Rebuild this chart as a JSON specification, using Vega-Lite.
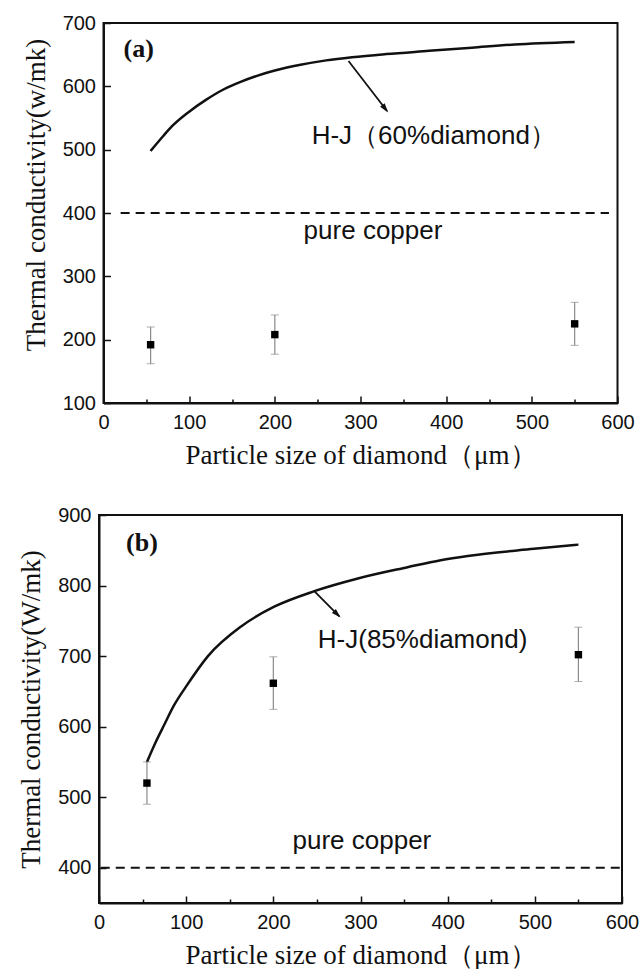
{
  "$schema": "https://vega.github.io/schema/vega-lite/v6.json",
  "background": "white",
  "padding": {"left": 16, "top": 12, "right": 5, "bottom": 5},
  "config": {
    "view": {"stroke": "#111", "strokeWidth": 2},
    "axis": {
      "grid": false, "domainColor": "#111", "domainWidth": 2,
      "tickColor": "#111", "tickWidth": 1.5,
      "labelFont": "Liberation Sans", "labelFontSize": 20, "labelColor": "#111",
      "titleFont": "Liberation Serif", "titleFontSize": 27, "titleFontWeight": "normal", "titleColor": "#111"
    }
  },
  "datasets": {
    "curveA": [
      {"x": 55, "y": 498}, {"x": 70, "y": 522}, {"x": 80, "y": 537}, {"x": 100, "y": 560},
      {"x": 120, "y": 579}, {"x": 140, "y": 595}, {"x": 160, "y": 607}, {"x": 180, "y": 617},
      {"x": 200, "y": 625}, {"x": 230, "y": 634}, {"x": 260, "y": 641}, {"x": 290, "y": 646},
      {"x": 330, "y": 651}, {"x": 380, "y": 656}, {"x": 430, "y": 661}, {"x": 480, "y": 666},
      {"x": 550, "y": 670}
    ],
    "ptsA": [
      {"x": 55, "y": 192, "lo": 162, "hi": 220},
      {"x": 200, "y": 208, "lo": 177, "hi": 239},
      {"x": 550, "y": 225, "lo": 191, "hi": 259}
    ],
    "copperA": [{"x1": 20, "x2": 590, "y": 400}],
    "arrowA": [{"x": 286, "y": 640, "x2": 331, "y2": 561, "hx": 328.9, "hy": 564.7}],
    "textA": [
      {"x": 243, "y": 508.5, "label": "H-J（60%diamond）"},
      {"x": 233.6, "y": 359, "label": "pure copper"}
    ],
    "tagA": [{"x": 23.4, "y": 658.6, "label": "(a)"}],
    "curveB": [
      {"x": 55, "y": 550}, {"x": 65, "y": 578}, {"x": 75, "y": 603}, {"x": 86, "y": 630},
      {"x": 100, "y": 657}, {"x": 125, "y": 700}, {"x": 163, "y": 742}, {"x": 201, "y": 770},
      {"x": 247, "y": 792}, {"x": 297, "y": 810}, {"x": 354, "y": 826}, {"x": 392, "y": 836},
      {"x": 423, "y": 842}, {"x": 499, "y": 852}, {"x": 550, "y": 858}
    ],
    "ptsB": [
      {"x": 55, "y": 520, "lo": 490, "hi": 550},
      {"x": 200, "y": 661.5, "lo": 624.5, "hi": 699},
      {"x": 550, "y": 702, "lo": 664, "hi": 741}
    ],
    "copperB": [{"x1": 2, "x2": 600, "y": 400}],
    "arrowB": [{"x": 247, "y": 792, "x2": 275.7, "y2": 756.3, "hx": 273.3, "hy": 759.3}],
    "textB": [
      {"x": 251, "y": 711, "label": "H-J(85%diamond)"},
      {"x": 222, "y": 427, "label": "pure copper"}
    ],
    "tagB": [{"x": 31, "y": 860.6, "label": "(b)"}]
  },
  "vconcat": [
    {
      "width": 514, "height": 380,
      "layer": [
        {
          "data": {"name": "copperA"},
          "mark": {"type": "rule", "strokeDash": [9, 6], "strokeWidth": 2, "color": "#111"},
          "encoding": {
            "x": {"field": "x1", "type": "quantitative", "title": "Particle size of diamond（μm）",
              "scale": {"domain": [0, 600], "nice": false, "zero": false},
              "axis": {"values": [0,50,100,150,200,250,300,350,400,450,500,550,600],
                "labelExpr": "datum.value % 100 === 0 ? datum.label : ''",
                "tickSize": {"condition": {"test": "datum.value % 100 === 0", "value": -7}, "value": -4},
                "labelPadding": 16, "titlePadding": 10, "labelFlush": false}},
            "x2": {"field": "x2"},
            "y": {"field": "y", "type": "quantitative", "title": "Thermal conductivity(w/mk)",
              "scale": {"domain": [100, 700], "nice": false, "zero": false},
              "axis": {"values": [100,150,200,250,300,350,400,450,500,550,600,650,700],
                "labelExpr": "datum.value % 100 === 0 ? datum.label : ''",
                "tickSize": {"condition": {"test": "datum.value % 100 === 0", "value": -7}, "value": -4},
                "labelPadding": 15, "titlePadding": 12, "titleY": 171.5, "labelFlush": false}}
          }
        },
        {
          "data": {"name": "curveA"},
          "mark": {"type": "line", "interpolate": "monotone", "strokeWidth": 2.5, "color": "#111"},
          "encoding": {
            "x": {"field": "x", "type": "quantitative", "title": "Particle size of diamond（μm）"},
            "y": {"field": "y", "type": "quantitative", "title": "Thermal conductivity(w/mk)"}
          }
        },
        {
          "data": {"name": "ptsA"},
          "mark": {"type": "errorbar", "ticks": {"size": 8, "color": "#8a8a8a"}, "rule": {"color": "#8a8a8a", "strokeWidth": 1.2}},
          "encoding": {
            "x": {"field": "x", "type": "quantitative", "title": "Particle size of diamond（μm）"},
            "y": {"field": "lo", "type": "quantitative", "title": "Thermal conductivity(w/mk)"},
            "y2": {"field": "hi"}
          }
        },
        {
          "data": {"name": "ptsA"},
          "mark": {"type": "square", "size": 55, "color": "#000", "opacity": 1},
          "encoding": {
            "x": {"field": "x", "type": "quantitative", "title": "Particle size of diamond（μm）"},
            "y": {"field": "y", "type": "quantitative", "title": "Thermal conductivity(w/mk)"}
          }
        },
        {
          "data": {"name": "arrowA"},
          "mark": {"type": "rule", "strokeWidth": 1.8, "color": "#111"},
          "encoding": {
            "x": {"field": "x", "type": "quantitative", "title": "Particle size of diamond（μm）"},
            "y": {"field": "y", "type": "quantitative", "title": "Thermal conductivity(w/mk)"},
            "x2": {"field": "x2"},
            "y2": {"field": "y2"}
          }
        },
        {
          "data": {"name": "arrowA"},
          "mark": {"type": "point", "shape": "M0,-1L0.6,1L-0.6,1Z", "filled": true, "size": 90, "angle": 142.5, "color": "#111", "opacity": 1},
          "encoding": {
            "x": {"field": "hx", "type": "quantitative", "title": "Particle size of diamond（μm）"},
            "y": {"field": "hy", "type": "quantitative", "title": "Thermal conductivity(w/mk)"}
          }
        },
        {
          "data": {"name": "textA"},
          "mark": {"type": "text", "align": "left", "baseline": "alphabetic", "font": "Liberation Sans", "fontSize": 26, "color": "#111"},
          "encoding": {
            "x": {"field": "x", "type": "quantitative", "title": "Particle size of diamond（μm）"},
            "y": {"field": "y", "type": "quantitative", "title": "Thermal conductivity(w/mk)"},
            "text": {"field": "label"}
          }
        },
        {
          "data": {"name": "tagA"},
          "mark": {"type": "text", "align": "left", "baseline": "middle", "font": "Liberation Serif", "fontWeight": "bold", "fontSize": 26, "color": "#111"},
          "encoding": {
            "x": {"field": "x", "type": "quantitative", "title": "Particle size of diamond（μm）"},
            "y": {"field": "y", "type": "quantitative", "title": "Thermal conductivity(w/mk)"},
            "text": {"field": "label"}
          }
        }
      ]
    },
    {
      "width": 523, "height": 388,
      "layer": [
        {
          "data": {"name": "copperB"},
          "mark": {"type": "rule", "strokeDash": [9, 6], "strokeWidth": 2, "color": "#111"},
          "encoding": {
            "x": {"field": "x1", "type": "quantitative", "title": "Particle size of diamond（μm）",
              "scale": {"domain": [0, 600], "nice": false, "zero": false},
              "axis": {"values": [0,50,100,150,200,250,300,350,400,450,500,550,600],
                "labelExpr": "datum.value % 100 === 0 ? datum.label : ''",
                "tickSize": {"condition": {"test": "datum.value % 100 === 0", "value": -7}, "value": -4},
                "labelPadding": 16, "titlePadding": 10, "labelFlush": false}},
            "x2": {"field": "x2"},
            "y": {"field": "y", "type": "quantitative", "title": "Thermal conductivity(W/mk)",
              "scale": {"domain": [350, 900], "nice": false, "zero": false},
              "axis": {"values": [400,450,500,550,600,650,700,750,800,850,900],
                "labelExpr": "datum.value % 100 === 0 ? datum.label : ''",
                "tickSize": {"condition": {"test": "datum.value % 100 === 0", "value": -7}, "value": -4},
                "labelPadding": 15, "titlePadding": 12, "labelFlush": false}}
          }
        },
        {
          "data": {"name": "curveB"},
          "mark": {"type": "line", "interpolate": "monotone", "strokeWidth": 2.5, "color": "#111"},
          "encoding": {
            "x": {"field": "x", "type": "quantitative", "title": "Particle size of diamond（μm）"},
            "y": {"field": "y", "type": "quantitative", "title": "Thermal conductivity(W/mk)"}
          }
        },
        {
          "data": {"name": "ptsB"},
          "mark": {"type": "errorbar", "ticks": {"size": 8, "color": "#8a8a8a"}, "rule": {"color": "#8a8a8a", "strokeWidth": 1.2}},
          "encoding": {
            "x": {"field": "x", "type": "quantitative", "title": "Particle size of diamond（μm）"},
            "y": {"field": "lo", "type": "quantitative", "title": "Thermal conductivity(W/mk)"},
            "y2": {"field": "hi"}
          }
        },
        {
          "data": {"name": "ptsB"},
          "mark": {"type": "square", "size": 55, "color": "#000", "opacity": 1},
          "encoding": {
            "x": {"field": "x", "type": "quantitative", "title": "Particle size of diamond（μm）"},
            "y": {"field": "y", "type": "quantitative", "title": "Thermal conductivity(W/mk)"}
          }
        },
        {
          "data": {"name": "arrowB"},
          "mark": {"type": "rule", "strokeWidth": 1.8, "color": "#111"},
          "encoding": {
            "x": {"field": "x", "type": "quantitative", "title": "Particle size of diamond（μm）"},
            "y": {"field": "y", "type": "quantitative", "title": "Thermal conductivity(W/mk)"},
            "x2": {"field": "x2"},
            "y2": {"field": "y2"}
          }
        },
        {
          "data": {"name": "arrowB"},
          "mark": {"type": "point", "shape": "M0,-1L0.6,1L-0.6,1Z", "filled": true, "size": 90, "angle": 135, "color": "#111", "opacity": 1},
          "encoding": {
            "x": {"field": "hx", "type": "quantitative", "title": "Particle size of diamond（μm）"},
            "y": {"field": "hy", "type": "quantitative", "title": "Thermal conductivity(W/mk)"}
          }
        },
        {
          "data": {"name": "textB"},
          "mark": {"type": "text", "align": "left", "baseline": "alphabetic", "font": "Liberation Sans", "fontSize": 26, "color": "#111"},
          "encoding": {
            "x": {"field": "x", "type": "quantitative", "title": "Particle size of diamond（μm）"},
            "y": {"field": "y", "type": "quantitative", "title": "Thermal conductivity(W/mk)"},
            "text": {"field": "label"}
          }
        },
        {
          "data": {"name": "tagB"},
          "mark": {"type": "text", "align": "left", "baseline": "middle", "font": "Liberation Serif", "fontWeight": "bold", "fontSize": 26, "color": "#111"},
          "encoding": {
            "x": {"field": "x", "type": "quantitative", "title": "Particle size of diamond（μm）"},
            "y": {"field": "y", "type": "quantitative", "title": "Thermal conductivity(W/mk)"},
            "text": {"field": "label"}
          }
        }
      ]
    }
  ],
  "spacing": 112,
  "bounds": "flush",
  "center": true
}
